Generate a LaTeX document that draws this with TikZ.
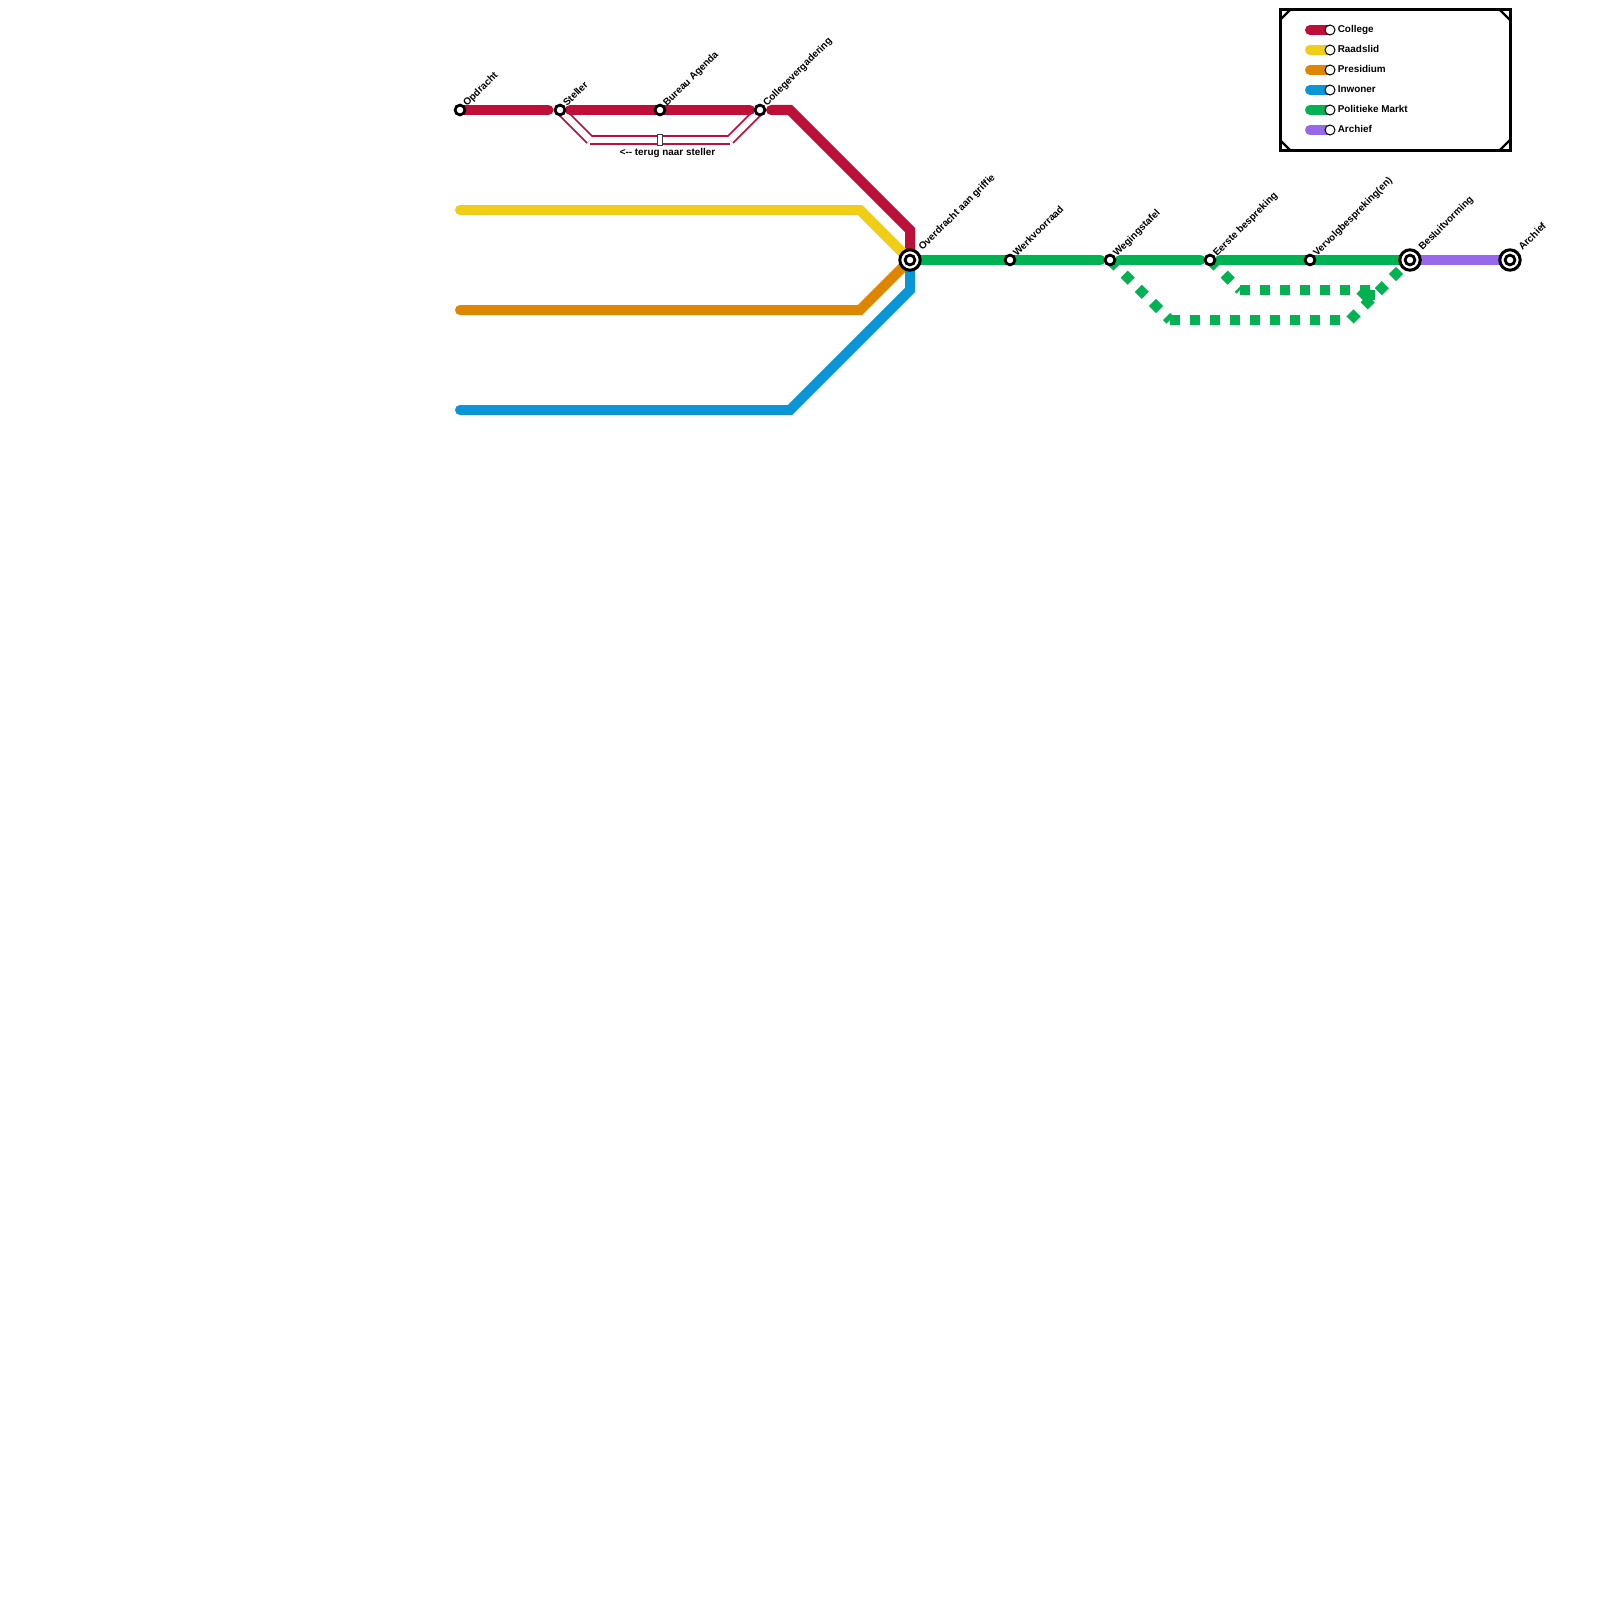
\documentclass[tikz,border=0pt]{standalone}
\usepackage{fontspec}
\setmainfont{Liberation Sans}
\usetikzlibrary{calc}
\definecolor{cred}{HTML}{BD1038}
\definecolor{cyellow}{HTML}{F0CE15}
\definecolor{corange}{HTML}{DF8600}
\definecolor{cblue}{HTML}{0896D7}
\definecolor{cgreen}{HTML}{00B251}
\definecolor{cpurple}{HTML}{9768EA}
\tikzset{
  x=1pt,y=-1pt,
  track/.style={line width=10pt,line join=miter,line cap=round},
  dashtrack/.style={line width=10pt,line cap=butt,cgreen,dash pattern=on 10pt off 10pt},
  thinred/.style={line width=10pt,line cap=butt,cred},
  thinwhite/.style={line width=6.4pt,line cap=butt,white},
  halt/.style={circle,draw=black,fill=white,line width=2.8pt,minimum size=9.8pt,inner sep=0pt,outer sep=0pt},
  bighalt/.style={circle,draw=black,fill=white,line width=3pt,minimum size=20.4pt,inner sep=0pt,outer sep=0pt},
  keydot/.style={circle,draw=black,fill=white,line width=1pt,minimum size=10pt,inner sep=0pt},
  lbl/.style={rotate=45,anchor=base west,inner sep=0pt,font=\fontsize{9.9}{10}\selectfont\bfseries},
  keylbl/.style={anchor=base west,inner sep=0pt,font=\fontsize{9.9}{10}\selectfont\bfseries},
  keybar/.style={line width=10pt,line cap=round},
}
\begin{document}
\begin{tikzpicture}
\useasboundingbox[fill=white] (0,0) rectangle (1600,1600);
% coordinates
\foreach \n/\x/\y in {opd/460/110,ste/560/110,bur/660/110,col/760/110,ovr/910/260,wer/1010/260,weg/1110/260,eer/1210/260,ver/1310/260,bes/1410/260,arc/1510/260,
 rc/790/110,rd/910/230,yb/460/210,yc/860/210,ob/460/310,oc/860/310,bb/460/410,bc/790/410,bd/910/290,
 ta/590/140,tb/730/140,da/1170/320,db/1350/320,ua/1240/290,ub/1370/290,uc/1370/300,ue/1360/290,uf/1367/297}
 {\coordinate (\n) at (\x,\y);}
% return track
\draw[thinred] (ste)--(ta); \draw[thinred] (ta)--(tb); \draw[thinred] (tb)--(col);
\draw[thinwhite] (ste)--(ta); \draw[thinwhite] (ta)--(tb); \draw[thinwhite] (tb)--(col);
% main tracks
\draw[track,cred] (opd)--($(ste)+(-11.5,0)$);
\draw[track,cred] ($(ste)+(10,0)$)--(bur)--($(col)+(-10,0)$);
\draw[track,cred] ($(col)+(11,0)$)--(rc)--(rd)--(ovr);
\draw[track,cyellow] (yb)--(yc)--(ovr);
\draw[track,corange] (ob)--(oc)--(ovr);
\draw[track,cblue] (bb)--(bc)--(bd)--(ovr);
% dashed tracks
\draw[dashtrack] (weg)--(da); \draw[dashtrack] (da)--(db); \draw[dashtrack] (db)--(bes);
\draw[dashtrack] (eer)--(ua); \draw[dashtrack] (ua)--(ub); \draw[dashtrack] (ub)--(uc); \draw[dashtrack] (ue)--(uf);
\draw[track,cgreen] (ovr)--(wer)--($(weg)+(-9.5,0)$);
\draw[track,cgreen] ($(weg)+(10,0)$)--($(eer)+(-9.5,0)$);
\draw[track,cgreen] ($(eer)+(10,0)$)--(ver)--(bes);
\draw[track,cpurple,line cap=butt] (bes)--(arc);
% return marker and label
\node[draw=black!75,fill=white,line width=1pt,minimum width=5pt,minimum height=11pt,inner sep=0pt] (mark) at (660,140) {};
\node[anchor=base,inner sep=0pt,font=\fontsize{9.9}{10}\selectfont\bfseries] (ret) at (667.5,155.5) {<-{}- terug naar steller};
% stations
\foreach \n in {opd,ste,bur,col,wer,weg,eer,ver}{\node[halt] (s\n) at (\n) {};}
\foreach \n in {ovr,bes,arc}{\node[bighalt] (s\n) at (\n) {}; \node[halt] (i\n) at (\n) {};}
% labels
\node[lbl] (lopd) at ($(opd)+(7,-3)$) {Opdracht};
\node[lbl] (lste) at ($(ste)+(7,-3)$) {Steller};
\node[lbl] (lbur) at ($(bur)+(7,-3)$) {Bureau Agenda};
\node[lbl] (lcol) at ($(col)+(7,-3)$) {Collegevergadering};
\node[lbl] (lovr) at ($(ovr)+(12.5,-9)$) {Overdracht aan griffie};
\node[lbl] (lwer) at ($(wer)+(7,-3)$) {Werkvoorraad};
\node[lbl] (lweg) at ($(weg)+(7,-3)$) {Wegingstafel};
\node[lbl] (leer) at ($(eer)+(7,-3)$) {Eerste bespreking};
\node[lbl] (lver) at ($(ver)+(7,-3)$) {Vervolgbespreking(en)};
\node[lbl] (lbes) at ($(bes)+(12.5,-9)$) {Besluitvorming};
\node[lbl] (larc) at ($(arc)+(12.5,-9)$) {Archief};
% legend
\draw[line width=3pt,fill=white,line join=miter] (1280,10) rectangle (1510,150);
\draw[line width=2.4pt] (1280,20)--(1290,10) (1500,10)--(1510,20) (1280,140)--(1290,150) (1500,150)--(1510,140);
\foreach \i/\c/\t/\y in {a/cred/College/30,b/cyellow/Raadslid/50,c/corange/Presidium/70,d/cblue/Inwoner/90,e/cgreen/Politieke Markt/110,f/cpurple/Archief/130}{
  \coordinate (k\i) at (1330,\y);
  \draw[keybar,\c] ($(k\i)+(-20,0)$)--(k\i);
  \node[keydot] (kd\i) at (k\i) {};
  \node[keylbl] (kl\i) at ($(k\i)+(7.6,2.2)$) {\t};
}
\end{tikzpicture}
\end{document}
